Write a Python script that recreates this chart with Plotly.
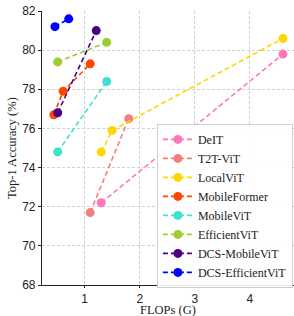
import plotly.graph_objects as go

names = ["DeIT", "T2T-ViT", "LocalViT", "MobileFormer", "MobileViT",
         "EfficientViT", "DCS-MobileViT", "DCS-EfficientViT"]
flops = [
    [1.3, 4.6],
    [1.1, 1.8],
    [1.3, 1.5, 4.6],
    [0.44, 0.61, 1.1],
    [0.51, 1.4],
    [0.51, 1.4],
    [0.51, 1.21],
    [0.46, 0.71],
]
acc = [
    [72.2, 79.8],
    [71.7, 76.5],
    [74.8, 75.9, 80.6],
    [76.7, 77.9, 79.3],
    [74.8, 78.4],
    [79.4, 80.4],
    [76.8, 81.0],
    [81.2, 81.6],
]
colors = ["#FF77BB", "#F08080", "#FFD700", "#FF4500", "#40E0D0",
          "#9ACD32", "#4B0082", "#0000FF"]

fig = go.Figure()
for n, x, y, c in zip(names, flops, acc, colors):
    fig.add_trace(go.Scatter(
        x=x, y=y, name=n, mode="lines+markers",
        line=dict(color=c, width=1.6, dash="5px,3px"),
        marker=dict(color=c, size=9),
    ))

serif = "Liberation Serif"
sans = "Liberation Sans"
fig.update_layout(
    width=294, height=316,
    margin=dict(l=42, r=0, t=11, b=31),
    paper_bgcolor="white", plot_bgcolor="white",
    showlegend=True,
    legend=dict(
        x=0.456, y=0.588, xanchor="left", yanchor="top",
        font=dict(family=serif, size=12, color="#222222"),
        bgcolor="rgba(255,255,255,0.9)", bordercolor="#d0d0d0", borderwidth=1,
        tracegroupgap=0, itemwidth=30,
    ),
    xaxis=dict(
        range=[0.225, 4.8], tickvals=[1, 2, 3, 4], automargin=False,
        showgrid=True, gridcolor="#d0d0d0", griddash="3px,2px", gridwidth=1,
        zeroline=False, showline=True, linecolor="#222222", linewidth=1.2,
        ticks="outside", ticklen=2, tickcolor="#222222",
        tickfont=dict(family=sans, size=12, color="#222222"),
    ),
    yaxis=dict(
        range=[68, 82], tickvals=[68, 70, 72, 74, 76, 78, 80, 82], automargin=False,
        showgrid=True, gridcolor="#d0d0d0", griddash="3px,2px", gridwidth=1,
        zeroline=False, showline=True, linecolor="#222222", linewidth=1.2,
        ticks="outside", ticklen=3, tickcolor="#222222",
        tickfont=dict(family=sans, size=12, color="#222222"),
    ),
    annotations=[
        dict(text="FLOPs (G)", xref="paper", yref="paper", x=0.5, y=-0.09,
             xanchor="center", yanchor="middle", showarrow=False,
             font=dict(family=serif, size=12.5, color="#222222")),
        dict(text="Top-1 Accuracy (%)", xref="paper", yref="paper", x=-0.119, y=0.5,
             xanchor="center", yanchor="middle", textangle=-90, showarrow=False,
             font=dict(family=serif, size=12.5, color="#222222")),
    ],
)
fig.write_html("out.html", config={"displayModeBar": False},
               post_script="document.body.style.margin='0';")
